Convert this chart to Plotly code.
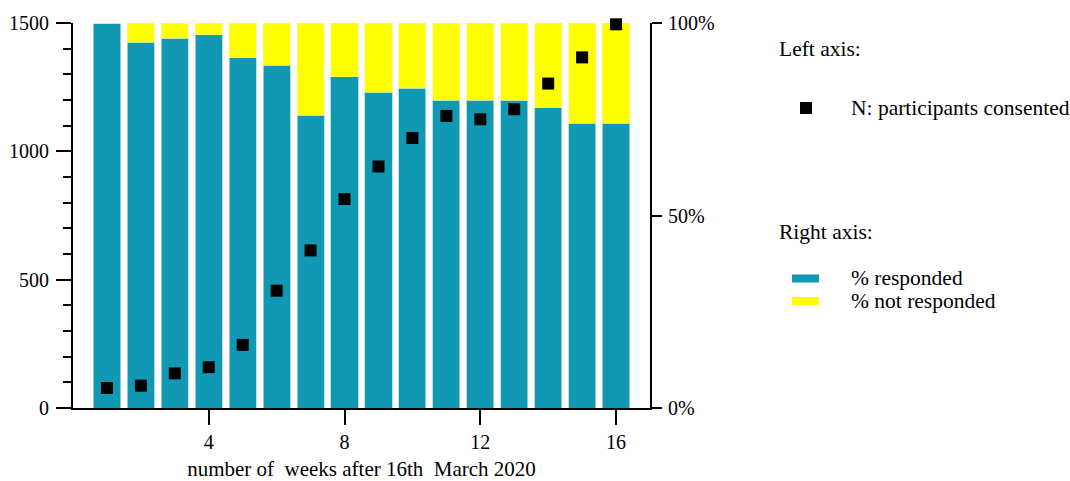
import plotly.graph_objects as go

weeks = list(range(1, 17))
pct_responded = [100, 95, 96, 97, 91, 89, 76, 86, 82, 83, 80, 80, 80, 78, 74, 74]
pct_not_responded = [0, 5, 4, 3, 9, 11, 24, 14, 18, 17, 20, 20, 20, 22, 26, 26]
n_consented = [78, 87, 135, 159, 246, 457, 614, 814, 941, 1052, 1138, 1125, 1164, 1264, 1366, 1495]

x_ticks = [4, 8, 12, 16]
left_ticks = [0, 500, 1000, 1500]
right_ticks = [0, 50, 100]
right_labels = ["0%", "50%", "100%"]

TEAL = "#1199b4"
YELLOW = "#ffff00"
FONT = "Liberation Serif"

fig = go.Figure()
fig.add_trace(go.Bar(x=weeks, y=pct_responded, name="% responded", marker_color=TEAL,
                     marker_line=dict(color="#a9dccf", width=0.8), width=0.8, yaxis="y"))
fig.add_trace(go.Bar(x=weeks, y=pct_not_responded, name="% not responded", marker_color=YELLOW,
                     marker_line=dict(color="#f4f4a0", width=0.5), width=0.8, yaxis="y"))
fig.add_trace(go.Scatter(x=weeks, y=n_consented, mode="markers", name="N: participants consented",
                         marker=dict(symbol="square", size=12, color="black"), yaxis="y2",
                         cliponaxis=False))

L, R, T, B = 73, 420, 23, 73
W, H = 1070, 481
pw = W - L - R
ph = H - T - B

def px(x):
    return (x - L) / pw

def py(y):
    return (H - B - y) / ph

annotations = [
    dict(text="Left axis:", x=px(777), y=py(49)),
    dict(text="N: participants consented", x=px(849), y=py(108)),
    dict(text="Right axis:", x=px(777), y=py(232)),
    dict(text="% responded", x=px(849), y=py(278)),
    dict(text="% not responded", x=px(849), y=py(301)),
]
for a in annotations:
    a.update(xref="paper", yref="paper", xanchor="left", yanchor="middle", showarrow=False,
             font=dict(family=FONT, size=21.5, color="black"))

shapes = [
    dict(type="rect", xref="paper", yref="paper", x0=px(800), x1=px(812), y0=py(102), y1=py(114),
         fillcolor="black", line=dict(width=0)),
    dict(type="rect", xref="paper", yref="paper", x0=px(792), x1=px(819), y0=py(274.5), y1=py(282.5),
         fillcolor=TEAL, line=dict(width=0)),
    dict(type="rect", xref="paper", yref="paper", x0=px(792), x1=px(819), y0=py(297), y1=py(305),
         fillcolor=YELLOW, line=dict(width=0)),
]

fig.update_layout(
    width=W, height=H,
    margin=dict(l=L, r=R, t=T, b=B, pad=0),
    paper_bgcolor="white", plot_bgcolor="white",
    barmode="stack", bargap=0.2,
    showlegend=False,
    font=dict(family=FONT, size=20, color="black"),
    xaxis=dict(range=[0, 17], tickvals=x_ticks, ticks="outside", ticklen=15, tickwidth=2,
               tickcolor="black", showline=True, linewidth=2, linecolor="black",
               showgrid=False, zeroline=False, ticklabelstandoff=0, automargin=False,
               title=dict(text="number of  weeks after 16th  March 2020", standoff=11,
                          font=dict(family=FONT, size=21))),
    yaxis=dict(range=[0, 100], side="right", tickvals=right_ticks, ticktext=right_labels,
               ticks="outside", ticklen=10, tickwidth=2, tickcolor="black",
               showline=True, linewidth=2, linecolor="black", showgrid=False, zeroline=False,
               ticklabelstandoff=2, automargin=False),
    yaxis2=dict(range=[0, 1500], side="left", overlaying="y", tickvals=left_ticks,
                ticks="outside", ticklen=15, tickwidth=2, tickcolor="black",
                showline=True, linewidth=2, linecolor="black", showgrid=False, zeroline=False,
                minor=dict(dtick=100, tick0=0, ticks="outside", ticklen=8, tickwidth=2, tickcolor="black"),
                ticklabelstandoff=3, automargin=False),
    annotations=annotations,
    shapes=shapes,
)

fig.write_html("out.html", config={"displayModeBar": False},
               post_script="document.body.style.margin='0';")
